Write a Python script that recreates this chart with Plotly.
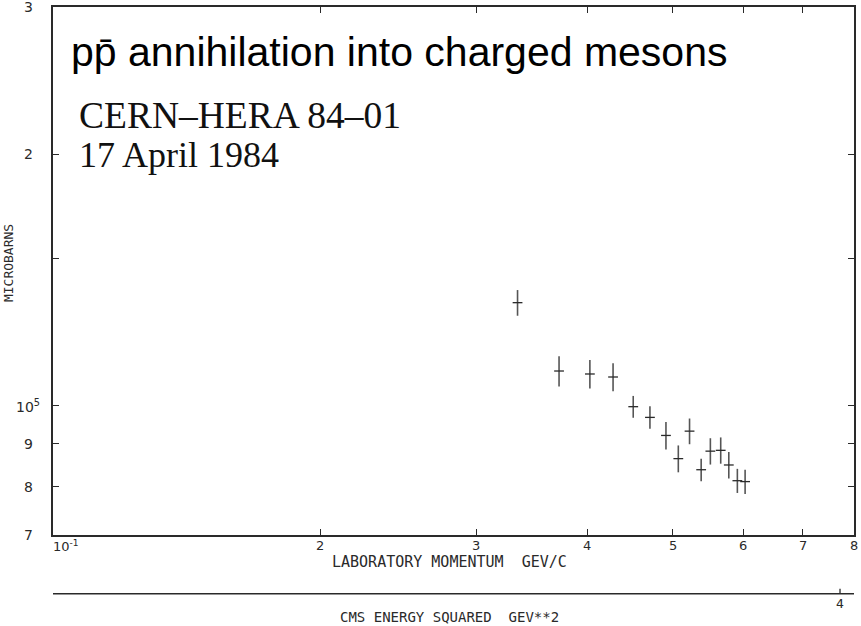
import plotly.graph_objects as go
import math

# ---- data ----
p_lab = [3.34, 3.72, 4.03, 4.28, 4.51, 4.71, 4.91, 5.07, 5.22, 5.38, 5.51, 5.66, 5.78, 5.91, 6.03]
sigma = [132800, 110000, 109100, 108200, 99700, 96800, 92100, 86400, 93200, 83800,
         88200, 88400, 84900, 81300, 81100]
sigma_err = [4700, 4600, 4300, 4200, 3000, 3000, 3500, 3200, 3300, 2600,
             3200, 3200, 3100, 2700, 2700]

x_tick_vals = [1, 2, 3, 4, 5, 6, 7, 8]
x_tick_text = ["10<sup>-1</sup>", "2", "3", "4", "5", "6", "7", "8"]
y_tick_vals = [70000, 80000, 90000, 100000, 200000, 300000]
y_tick_text = ["7", "8", "9", "10<sup>5</sup>", "2", "3"]
y_minor_ticks = [80000, 90000, 100000, 150000, 200000]

W, H = 861, 626
L, R, T, B = 53, 6, 5, 91
pw, ph = W - L - R, H - T - B


def px(x):
    return (x - L) / pw


def py(y):
    return (H - B - y) / ph


ink = "#2a2a2a"
mono = "DejaVu Sans Mono"

fig = go.Figure()
fig.add_trace(go.Scatter(
    x=p_lab, y=sigma, mode="markers",
    marker=dict(symbol="line-ew", size=7, line=dict(width=1.3, color=ink), color=ink),
    error_y=dict(type="data", array=sigma_err, visible=True, thickness=1.6,
                 width=0, color="#555555"),
    showlegend=False, hoverinfo="x+y",
))

fig.update_xaxes(type="log", range=[0, math.log10(8)], showgrid=False, zeroline=False,
                 showline=True, linecolor=ink, linewidth=1.5, mirror="ticks",
                 ticks="inside", ticklen=6, tickwidth=1.3, tickcolor=ink,
                 tickvals=x_tick_vals[1:-1], showticklabels=False)
fig.update_yaxes(type="log", range=[math.log10(70000), math.log10(300000)], showgrid=False,
                 zeroline=False, showline=True, linecolor=ink, linewidth=1.5, mirror="ticks",
                 ticks="inside", ticklen=6, tickwidth=1.3, tickcolor=ink,
                 tickvals=y_minor_ticks, showticklabels=False)

ann = []
# x tick labels
for v, t in zip(x_tick_vals, x_tick_text):
    xx = math.log10(v)
    ann.append(dict(x=xx, xref="x", y=py(546), yref="paper",
                    text=t, showarrow=False, xanchor="center" if v != 1 else "left",
                    xshift=0 if v != 1 else -2,
                    yanchor="middle", font=dict(family="DejaVu Sans", size=13, color=ink)))
# y tick labels
for v, t in zip(y_tick_vals, y_tick_text):
    ann.append(dict(x=px(28), xref="paper", y=math.log10(v), yref="y", text=t,
                    showarrow=False, xanchor="center", yanchor="middle",
                    font=dict(family="DejaVu Sans", size=14, color=ink)))

ann += [
    dict(x=px(450), y=py(562), xref="paper", yref="paper", text="LABORATORY MOMENTUM  GEV/C",
         showarrow=False, xanchor="center", yanchor="middle",
         font=dict(family=mono, size=15, color=ink)),
    dict(x=px(450), y=py(617), xref="paper", yref="paper", text="CMS ENERGY SQUARED  GEV**2",
         showarrow=False, xanchor="center", yanchor="middle",
         font=dict(family=mono, size=14, color=ink)),
    dict(x=px(841), y=py(604), xref="paper", yref="paper", text="4",
         showarrow=False, xanchor="center", yanchor="middle",
         font=dict(family=mono, size=13, color=ink)),
    dict(x=px(8), y=py(262), xref="paper", yref="paper", text="MICROBARNS", textangle=-90,
         showarrow=False, xanchor="center", yanchor="middle",
         font=dict(family=mono, size=13, color=ink)),
    dict(x=px(69), y=py(50), xref="paper", yref="paper",
         text="pp\u0304 annihilation into charged mesons",
         showarrow=False, xanchor="left", yanchor="middle",
         font=dict(family="Liberation Sans", size=41, color="black")),
    dict(x=px(77), y=py(114), xref="paper", yref="paper", text="CERN\u2013HERA 84\u201301",
         showarrow=False, xanchor="left", yanchor="middle",
         font=dict(family="Liberation Serif", size=37.5, color="#111111")),
    dict(x=px(77), y=py(154), xref="paper", yref="paper", text="17 April 1984",
         showarrow=False, xanchor="left", yanchor="middle",
         font=dict(family="Liberation Serif", size=36, color="#111111")),
]

shapes = [
    dict(type="line", xref="paper", yref="paper", x0=px(53), x1=px(855), y0=py(594), y1=py(594),
         line=dict(color=ink, width=1.5)),
    dict(type="line", xref="paper", yref="paper", x0=px(841), x1=px(841), y0=py(594), y1=py(589),
         line=dict(color=ink, width=1.3)),
]

fig.update_layout(width=W, height=H, margin=dict(l=L, r=R, t=T, b=B),
                  plot_bgcolor="white", paper_bgcolor="white",
                  annotations=ann, shapes=shapes)

fig.write_html("out.html", config={"displayModeBar": False},
               post_script="document.body.style.margin='0px';")
